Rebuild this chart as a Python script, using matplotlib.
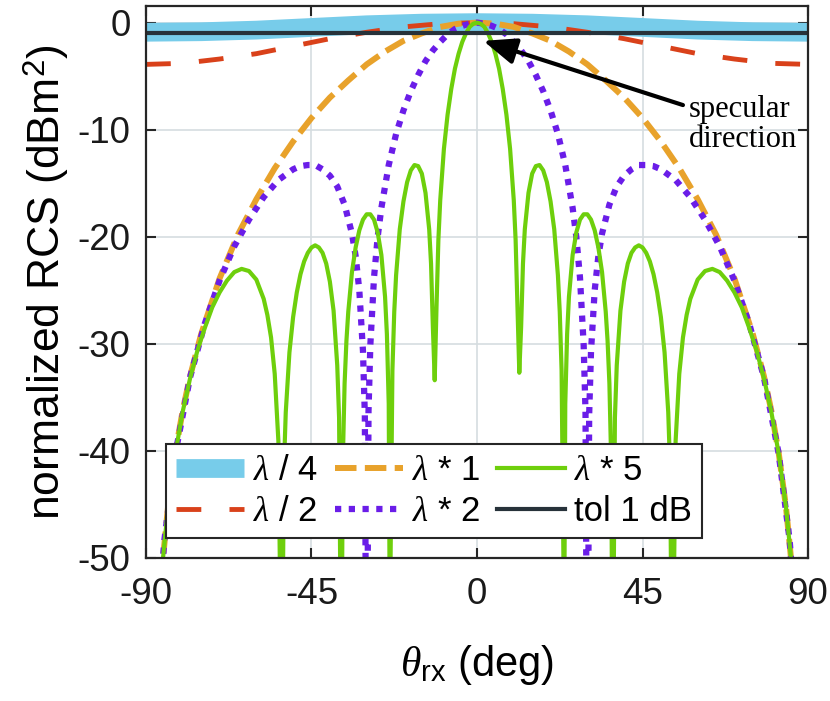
import numpy as np
import matplotlib
matplotlib.use("Agg")
import matplotlib.pyplot as plt

# normalized RCS of a strip vs receive angle
lam4_deg = [-90, -75, -60, -45, -30, -15, 0, 15, 30, 45, 60, 75, 90]
lam4_db = [-0.9, -0.85, -0.7, -0.45, -0.2, -0.05, 0, -0.05, -0.2, -0.45, -0.7, -0.85, -0.9]

lam2_deg = [-90, -80, -70, -60, -50, -40, -30, -20, -10, 0, 10, 20, 30, 40, 50, 60, 70, 80, 90]
lam2_db = [-3.9, -3.8, -3.4, -2.9, -2.2, -1.5, -0.9, -0.4, -0.1, 0,
           -0.1, -0.4, -0.9, -1.5, -2.2, -2.9, -3.4, -3.8, -3.9]

lam1_deg = [-88, -86, -84, -82, -80, -78, -75, -70, -65, -60, -55, -50, -45, -40, -35, -30, -25, -20, -15, -10, -5,
            0, 5, 10, 15, 20, 25, 30, 35, 40, 45, 50, 55, 60, 65, 70, 75, 78, 80, 82, 84, 86, 88]
lam1_db = [-64.3, -52.2, -45.2, -40.1, -36.2, -33.0, -29.1, -23.9, -19.8, -16.5, -13.6, -11.1, -8.9, -7.0, -5.4,
           -3.9, -2.7, -1.7, -1.0, -0.4, -0.1,
           0, -0.1, -0.4, -1.0, -1.7, -2.7, -3.9, -5.4, -7.0, -8.9, -11.1, -13.6, -16.5, -19.8, -23.9, -29.1,
           -33.0, -36.2, -40.1, -45.2, -52.2, -64.3]

lamx2_deg = [-87, -85, -82, -78, -74, -70, -66, -62, -58, -54, -50, -48, -46, -44, -42, -40, -38, -36, -34, -33,
             -32, -31, -30.5, -30, -29.5, -29, -28, -27, -26, -24, -22, -20, -18, -16, -14, -12, -10, -8, -6, -4, -2,
             0, 2, 4, 6, 8, 10, 12, 14, 16, 18, 20, 22, 24, 26, 27, 28, 29, 29.5, 30, 30.5, 31, 32, 33, 34, 36,
             38, 40, 42, 44, 46, 48, 50, 54, 58, 62, 66, 70, 74, 78, 82, 85, 87]
lamx2_db = [-57.3, -48.3, -40.2, -33.1, -28.1, -24.1, -20.9, -18.4, -16.3, -14.7, -13.7, -13.4, -13.3, -13.3,
            -13.7, -14.3, -15.3, -17.0, -19.7, -21.8, -25.0, -30.7, -36.6, -70, -36.3, -30.1, -23.8, -20.0,
            -17.3, -13.3, -10.4, -8.2, -6.4, -4.9, -3.6, -2.6, -1.8, -1.1, -0.6, -0.3, -0.1,
            0, -0.1, -0.3, -0.6, -1.1, -1.8, -2.6, -3.6, -4.9, -6.4, -8.2, -10.4, -13.3, -17.3, -20.0, -23.8,
            -30.1, -36.3, -70, -36.6, -30.7, -25.0, -21.8, -19.7, -17.0, -15.3, -14.3, -13.7, -13.3, -13.3,
            -13.4, -13.7, -14.7, -16.3, -18.4, -20.9, -24.1, -28.1, -33.1, -40.2, -48.3, -57.3]

lamx5_deg = [-88, -86, -84, -82, -80, -78, -76, -74, -72, -70, -68, -66, -64, -62, -60, -58, -57, -56, -55, -54,
             -53.1, -52.5, -52, -51, -50, -49, -48, -47, -46, -45, -44, -43, -42, -41, -40, -39, -38, -37.5,
             -36.9, -36.5, -36, -35.5, -35, -34, -33, -32, -31, -30, -29, -28, -27, -26, -25, -24.5, -24,
             -23.6, -23.5, -23, -22.5, -22, -21, -20, -19, -18, -17, -16, -15, -14, -13, -12.5, -12, -11.5,
             -11, -10.5, -10, -9, -8, -7, -6, -5, -4, -3, -2, -1,
             0, 1, 2, 3, 4, 5, 6, 7, 8, 9, 10, 10.5, 11, 11.5, 12, 12.5, 13, 14, 15, 16, 17, 18, 19, 20, 21,
             22, 22.5, 23, 23.5, 23.6, 24, 24.5, 25, 26, 27, 28, 29, 30, 31, 32, 33, 34, 35, 35.5, 36, 36.5,
             36.9, 37.5, 38, 39, 40, 41, 42, 43, 44, 45, 46, 47, 48, 49, 50, 51, 52, 52.5, 53.1, 54, 55, 56,
             57, 58, 60, 62, 64, 66, 68, 70, 72, 74, 76, 78, 80, 82, 84, 86, 88]
lamx5_db = [-64.3, -52.2, -45.2, -40.2, -36.3, -33.2, -30.6, -28.5, -26.6, -25.2, -24.1, -23.3, -23.0, -23.2,
            -24.0, -25.8, -27.3, -29.4, -32.8, -39.1, -65, -41.6, -36.4, -30.8, -27.5, -25.2, -23.5, -22.3,
            -21.5, -21.0, -20.8, -21.0, -21.5, -22.5, -24.2, -26.9, -32.0, -36.9, -65, -41.2, -33.7, -29.7,
            -27.0, -23.3, -21.0, -19.4, -18.4, -17.9, -17.9, -18.4, -19.6, -21.7, -25.6, -29.1, -35.6, -65,
            -50.1, -32.5, -27.0, -23.6, -19.3, -16.7, -14.9, -13.8, -13.3, -13.4, -14.1, -15.9, -19.3, -22.5,
            -28.4, -33.4, -26.4, -20.3, -16.6, -11.8, -8.6, -6.2, -4.3, -2.9, -1.8, -1.0, -0.4, -0.1,
            0, -0.1, -0.4, -1.0, -1.8, -2.9, -4.3, -6.2, -8.6, -11.8, -16.6, -20.3, -26.4, -32.7, -28.4,
            -22.5, -19.3, -15.9, -14.1, -13.4, -13.3, -13.8, -14.9, -16.7, -19.3, -23.6, -27.0, -32.5, -50.1,
            -65, -35.6, -29.1, -25.6, -21.7, -19.6, -18.4, -17.9, -17.9, -18.4, -19.4, -21.0, -23.3, -27.0,
            -29.7, -33.7, -41.2, -65, -36.9, -32.0, -26.9, -24.2, -22.5, -21.5, -21.0, -20.8, -21.0, -21.5,
            -22.3, -23.5, -25.2, -27.5, -30.8, -36.4, -41.6, -65, -39.1, -32.8, -29.4, -27.3, -25.8, -24.0,
            -23.2, -23.0, -23.3, -24.1, -25.2, -26.6, -28.5, -30.6, -33.2, -36.3, -40.2, -45.2, -52.2, -64.3]

tol_deg = [-90, 90]
tol_db = [-1, -1]

labels = [r"$\lambda$ / 4", r"$\lambda$ / 2", r"$\lambda$ * 1", r"$\lambda$ * 2", r"$\lambda$ * 5", "tol 1 dB"]

plt.rcParams["font.family"] = ["Liberation Sans", "DejaVu Sans"]
plt.rcParams["mathtext.fontset"] = "custom"
plt.rcParams["mathtext.rm"] = "Liberation Sans"
plt.rcParams["mathtext.it"] = "Liberation Serif:italic"
plt.rcParams["mathtext.bf"] = "Liberation Sans:bold"
plt.rcParams["axes.unicode_minus"] = False

fig = plt.figure(figsize=(8.3, 7.01), dpi=100)
ax = fig.add_axes([0.1759, 0.2040, 0.7976, 0.7874])

ax.plot(lam4_deg, lam4_db, color="#77CCEA", lw=13.5, solid_capstyle="butt", label=labels[0])
ax.plot(lam2_deg, lam2_db, color="#D9411A", lw=3.5, dashes=(5.1, 5.8), label=labels[1])
ax.plot(lam1_deg, lam1_db, color="#E8A22B", lw=4.3, dashes=(3.6, 1.4), label=labels[2])
ax.plot(lamx2_deg, lamx2_db, color="#6A1DE8", lw=4.5, dashes=(1, 1.2), label=labels[3])
ax.plot(lamx5_deg, lamx5_db, color="#6ECF0C", lw=3, label=labels[4])
ax.plot(tol_deg, tol_db, color="#27323A", lw=3, label=labels[5])

ax.set_xlim(-90, 90)
ax.set_ylim(-50, 1.55)
ax.set_xticks([-90, -45, 0, 45, 90])
ax.set_yticks([-50, -40, -30, -20, -10, 0])
ax.grid(True, color="#D5DDE0", lw=1.2)
ax.set_axisbelow(True)
ax.tick_params(direction="in", length=7, width=1.5, top=True, right=True,
               labelsize=26.5, color="#262626", labelcolor="#1a1a1a")
ax.tick_params(axis="x", pad=14)
ax.tick_params(axis="y", pad=11)
for s in ax.spines.values():
    s.set_linewidth(1.6)
    s.set_color("#262626")

ax.set_xlabel(r"$\theta_{\mathrm{rx}}$ (deg)", fontsize=30, labelpad=22)
ax.set_ylabel(r"normalized RCS (dBm$^{2}$)", fontsize=32, labelpad=5)

# arrow to the specular peak
ax.annotate("", xy=(1.7, -1.7), xytext=(56, -7.7),
            arrowprops=dict(arrowstyle="-|>,head_length=1.0,head_width=0.4",
                            color="k", lw=3, mutation_scale=20, shrinkA=0, shrinkB=0))
ax.text(57.5, -9.5, "specular\ndirection", family="Liberation Serif", fontsize=22,
        ha="left", va="center", linespacing=1.05)

leg = ax.legend(ncol=3, loc="lower left", bbox_to_anchor=(0.030, 0.036), borderaxespad=0,
                fontsize=25, handlelength=1.95, handletextpad=0.25, columnspacing=0.5,
                labelspacing=0.22, borderpad=0.3, fancybox=False, framealpha=1)
leg.get_frame().set_edgecolor("#262626")
leg.get_frame().set_linewidth(1.5)

fig.savefig("out.png", dpi=100)
